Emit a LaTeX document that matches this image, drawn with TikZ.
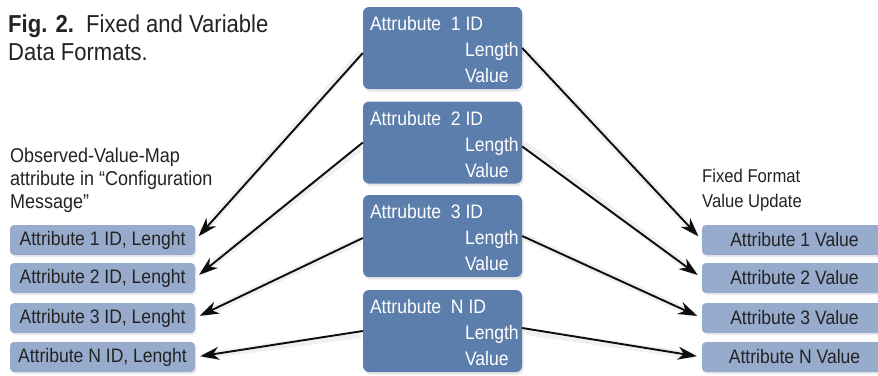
\documentclass[tikz,border=0pt]{standalone}
\usepackage{fontspec}
\setmainfont{Liberation Sans}[FakeStretch=0.9]
\usetikzlibrary{arrows.meta,shadows}
\definecolor{cboxc}{RGB}{91,126,172}
\definecolor{lboxc}{RGB}{151,171,205}
\definecolor{txtc}{RGB}{35,35,35}
\begin{document}
\begin{tikzpicture}[x=1pt,y=-1pt,
  cbox/.style={fill=cboxc, rounded corners=6pt, minimum width=159pt, minimum height=82pt, inner sep=0pt,
     drop shadow={opacity=0.18, shadow xshift=1.5pt, shadow yshift=-2.5pt}},
  lbox/.style={fill=lboxc, rounded corners=4pt, minimum width=185pt, minimum height=30pt, inner sep=0pt,
     text=txtc, font=\fontsize{19.5}{22}\selectfont,
     drop shadow={opacity=0.15, shadow xshift=1.5pt, shadow yshift=-2pt}},
  ctext/.style={anchor=base west, inner sep=0pt, text=white, font=\fontsize{19.5}{22}\selectfont},
  captxt/.style={anchor=base west, inner sep=0pt, align=left, text=txtc},
  arr/.style={-{Stealth[length=19pt,width=13pt,inset=6pt]}, line width=1.9pt, black!95, shorten >=5pt},
  arrsh/.style={line width=7pt, black, opacity=0.06, shorten >=8pt, shorten <=2pt}
]
\useasboundingbox (0,0) rectangle (878,375);
\fill[white] (0,0) rectangle (878,375);

% captions (base anchor = baseline of the last line)
\node[captxt, font=\fontsize{24.5}{28}\selectfont] (title) at (8,60) {\textbf{Fig. 2.}\ \ Fixed and Variable\\Data Formats.};
\node[captxt, font=\fontsize{20}{23}\selectfont] (lcap) at (10,208) {Observed-Value-Map\\attribute in “Configuration\\Message”};
\node[captxt, font=\fontsize{18.5}{25}\selectfont] (rcap) at (702,207) {Fixed Format\\Value Update};

% center boxes
\node[cbox] (c1) at (442.5,48) {};
\node[cbox] (c2) at (442.5,142.5) {};
\node[cbox] (c3) at (442.5,236) {};
\node[cbox] (c4) at (442.5,331) {};
\foreach \c/\n in {c1/1, c2/2, c3/3, c4/N}{
  \node[ctext] (\c t) at ([shift={(7,24)}]\c.north west) {Attrubute\ \ \n\ ID};
  \node[ctext] (\c l) at ([shift={(102,50)}]\c.north west) {Length};
  \node[ctext] (\c v) at ([shift={(102,76)}]\c.north west) {Value};
}

% left boxes
\node[lbox] (l1) at (102.5,240) {Attribute 1 ID, Lenght};
\node[lbox] (l2) at (102.5,278) {Attribute 2 ID, Lenght};
\node[lbox] (l3) at (102.5,318) {Attribute 3 ID, Lenght};
\node[lbox] (l4) at (102.5,357) {Attribute N ID, Lenght};

% right boxes
\begin{scope}
\clip (0,0) rectangle (878,375);
\node[lbox] (r1) at (794.5,240) {Attribute 1 Value};
\node[lbox] (r2) at (794.5,278) {Attribute 2 Value};
\node[lbox] (r3) at (794.5,318) {Attribute 3 Value};
\node[lbox] (r4) at (794.5,357) {Attribute N Value};
\end{scope}

% arrow shadows
\begin{scope}[shift={(3,5)}]
\foreach \a/\b in {c1/l1, c2/l2, c3/l3, c4/l4}{
  \draw[arrsh] ([yshift=-3pt]\a.west) -- (\b.east);
}
\foreach \a/\b in {c1/r1, c2/r2, c3/r3, c4/r4}{
  \draw[arrsh] (\a.east) -- (\b.west);
}
\end{scope}

% arrows
\draw[arr] ([yshift=-5pt]c1.west) -- (l1.east);
\draw[arr] (c2.west) -- (l2.east);
\draw[arr] ([yshift=-2pt]c3.west) -- (l3.east);
\draw[arr] (c4.west) -- (l4.east);
\draw[arr] (c1.east) -- (r1.west);
\draw[arr] ([yshift=-4pt]c2.east) -- (r2.west);
\draw[arr] (c3.east) -- (r3.west);
\draw[arr] ([yshift=3pt]c4.east) -- (r4.west);
\end{tikzpicture}
\end{document}
